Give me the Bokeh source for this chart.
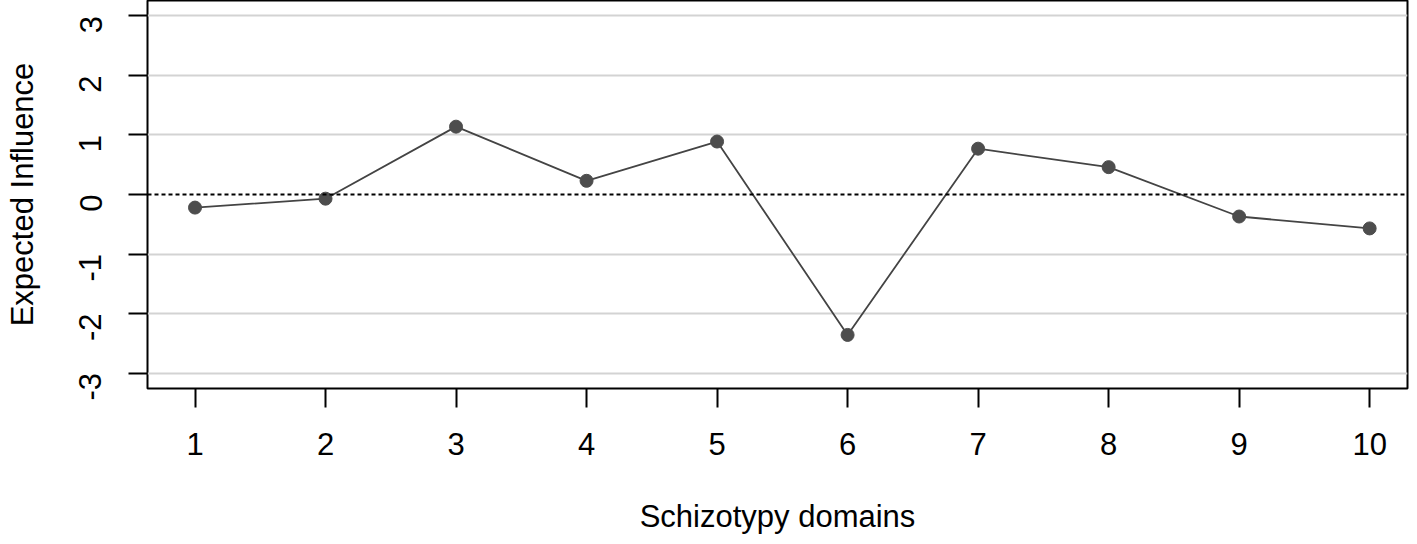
import math
from bokeh.plotting import figure
from bokeh.models import FixedTicker, Span, ColumnDataSource, PrintfTickFormatter
from bokeh.embed import file_html
from bokeh.resources import INLINE

domains = [1, 2, 3, 4, 5, 6, 7, 8, 9, 10]
expected_influence = [-0.22, -0.07, 1.14, 0.23, 0.89, -2.36, 0.77, 0.46, -0.37, -0.57]
y_ticks = [-3, -2, -1, 0, 1, 2, 3]
grid_ticks = [-3, -2, -1, 1, 2, 3]

FONT = "Liberation Sans"

p = figure(width=1409, height=536, output_backend="svg", toolbar_location=None,
           x_range=(0.636, 10.29), y_range=(-3.26, 3.26),
           min_border_left=147, min_border_right=2, min_border_top=0, min_border_bottom=145)

p.background_fill_color = "white"
p.border_fill_color = "white"
p.outline_line_color = "black"
p.outline_line_width = 2

p.xgrid.grid_line_color = None
p.ygrid.ticker = FixedTicker(ticks=grid_ticks)
p.ygrid.grid_line_color = "#d3d3d3"
p.ygrid.grid_line_width = 2

zero = Span(location=0, dimension="width", line_color="black", line_width=2, line_dash="4 3")
p.add_layout(zero)

src = ColumnDataSource(dict(x=domains, y=expected_influence))
p.line("x", "y", source=src, line_color="#444444", line_width=1.8)
p.scatter("x", "y", source=src, size=13, fill_color="#4d4d4d", line_color="#4d4d4d")

p.xaxis.ticker = FixedTicker(ticks=domains)
p.yaxis.ticker = FixedTicker(ticks=y_ticks)
p.yaxis.formatter = PrintfTickFormatter(format="%d")
p.xaxis.formatter = PrintfTickFormatter(format="%d")
p.xaxis.minor_tick_line_color = None
p.yaxis.minor_tick_line_color = None

for ax in (p.xaxis[0], p.yaxis[0]):
    ax.axis_line_color = None
    ax.major_tick_line_color = "black"
    ax.major_tick_line_width = 2
    ax.major_tick_out = 19
    ax.major_tick_in = 0
    ax.major_label_text_font = FONT
    ax.major_label_text_font_size = "31px"
    ax.major_label_text_color = "black"
    ax.axis_label_text_font = FONT
    ax.axis_label_text_font_size = "31px"
    ax.axis_label_text_font_style = "normal"
    ax.axis_label_text_color = "black"

p.xaxis.axis_label = "Schizotypy domains"
p.yaxis.axis_label = "Expected Influence"
p.xaxis.major_label_standoff = 25
p.xaxis.axis_label_standoff = 41
p.yaxis.major_label_orientation = math.pi / 2
p.yaxis.major_label_standoff = 38
p.yaxis.axis_label_standoff = 26

open("out.html", "w").write(file_html(p, INLINE))
